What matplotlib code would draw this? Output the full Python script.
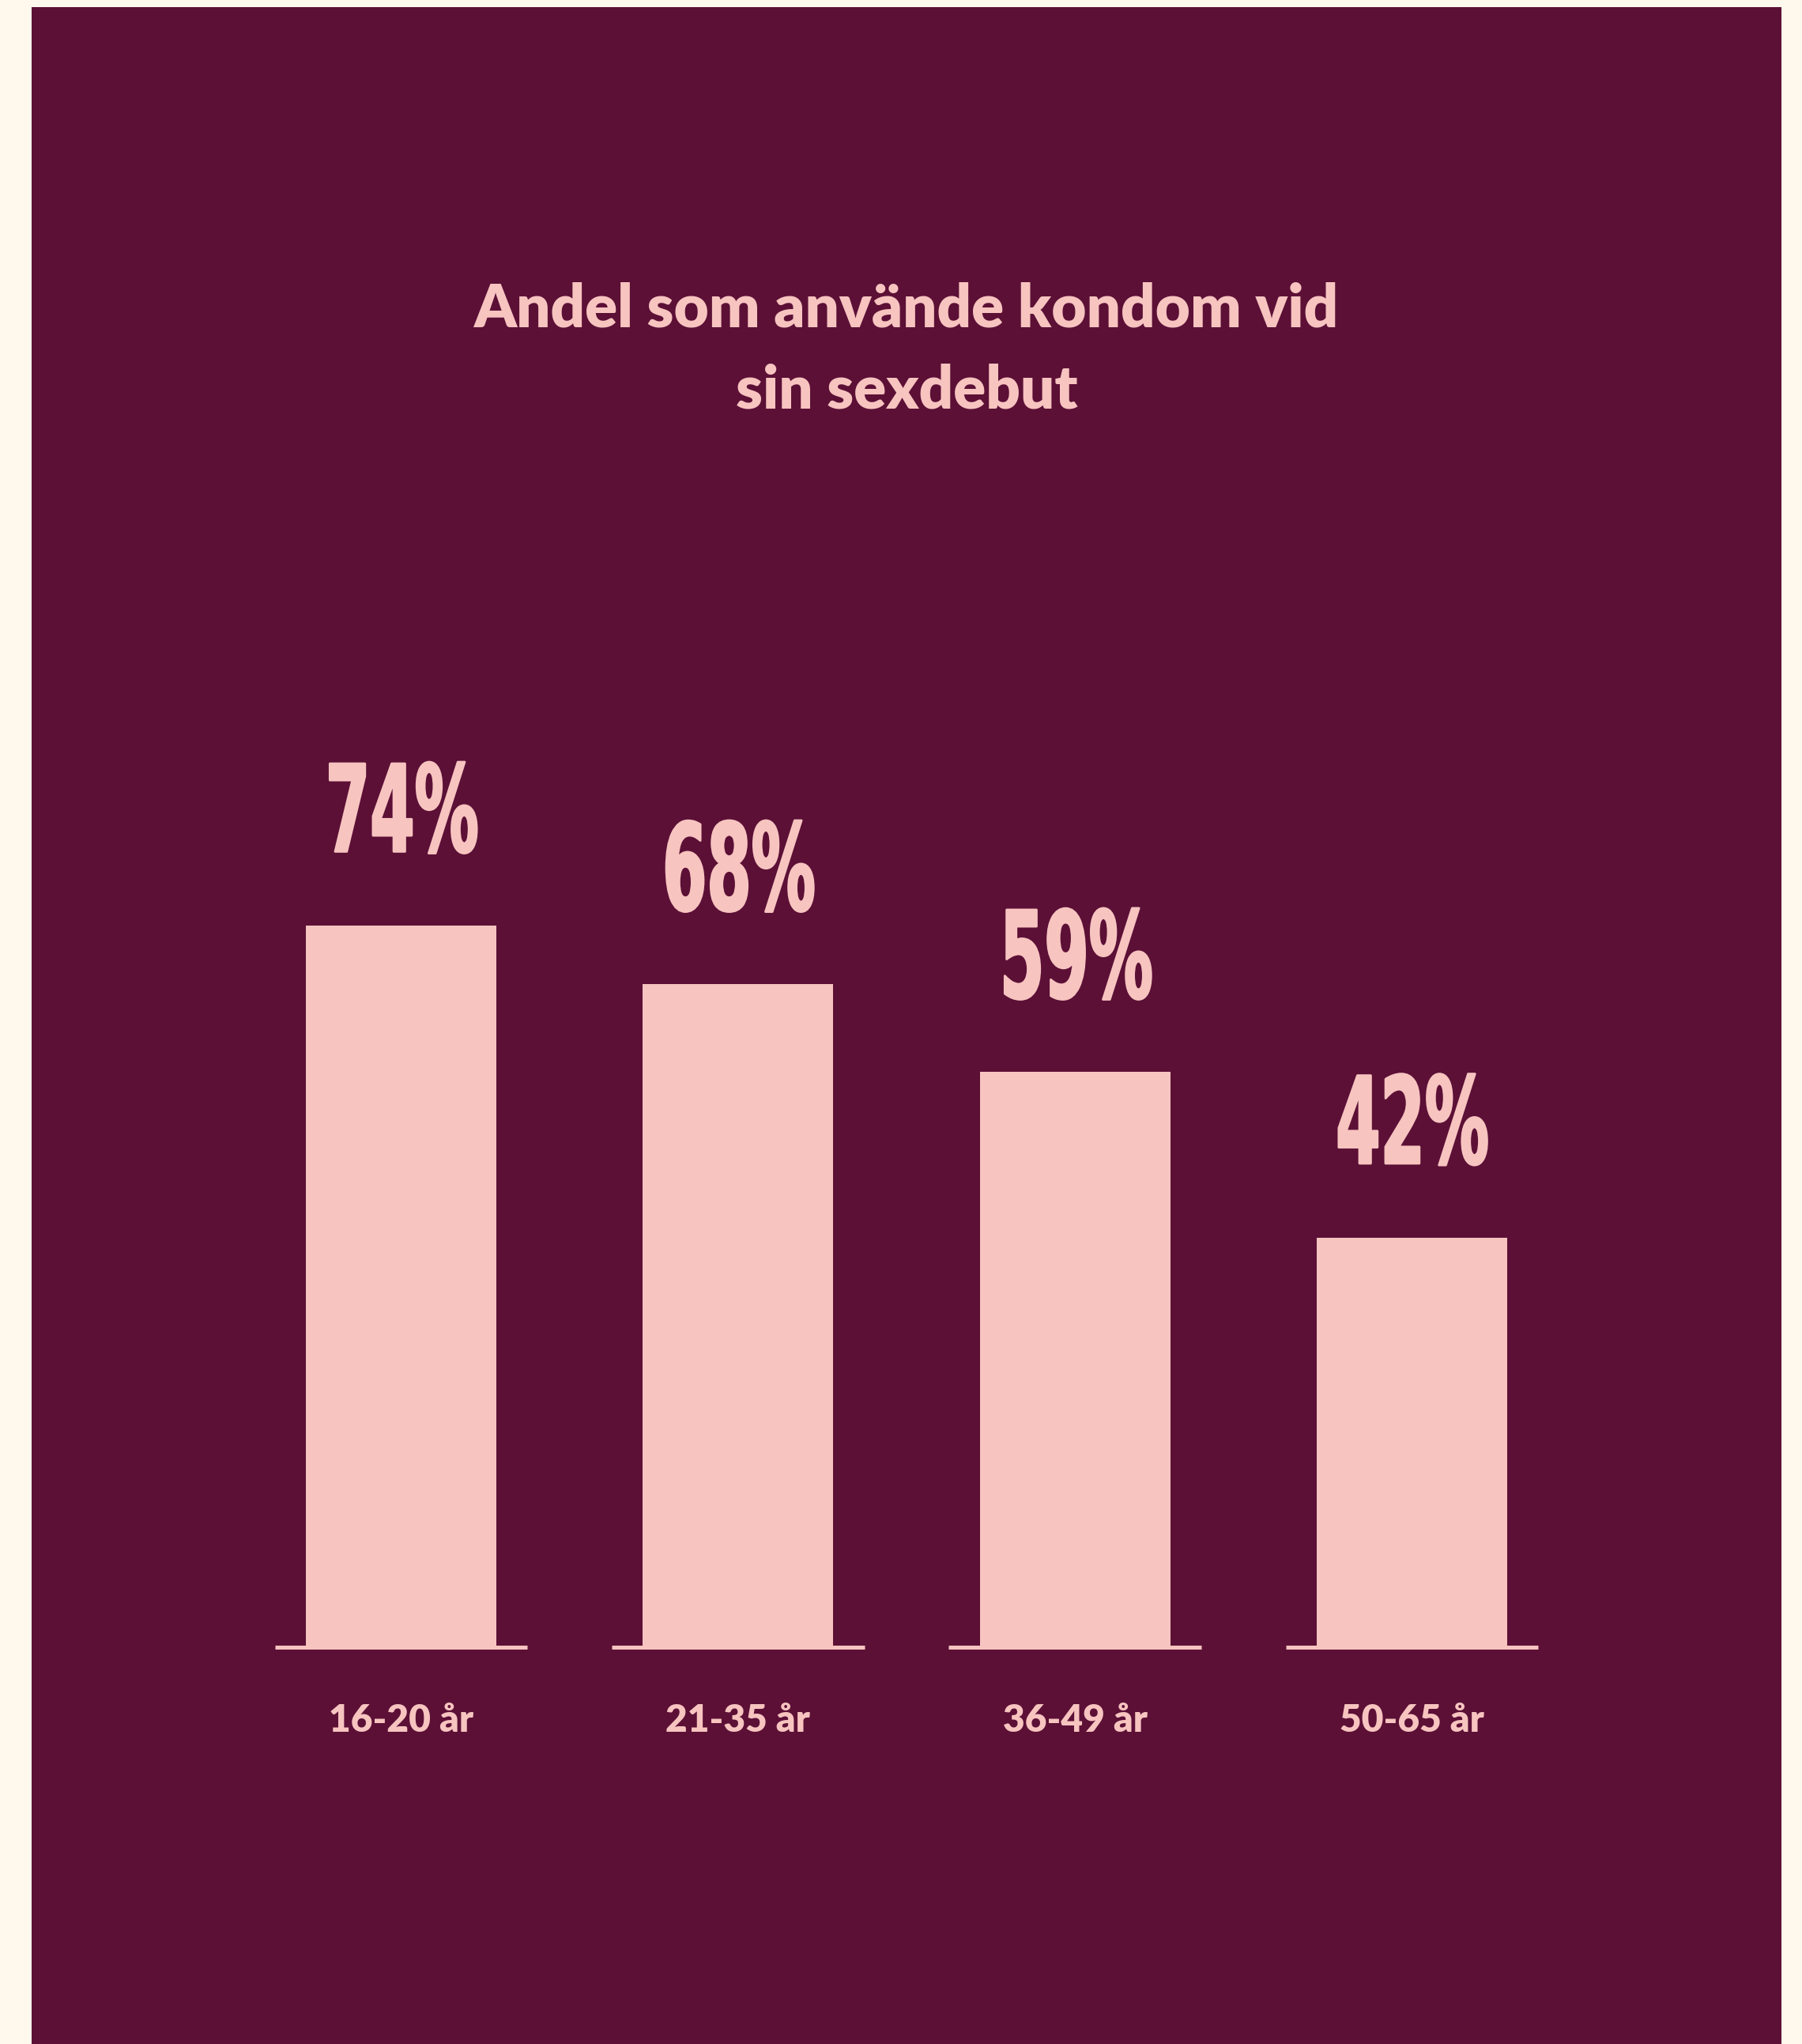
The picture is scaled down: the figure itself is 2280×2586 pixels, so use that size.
import matplotlib
matplotlib.use("Agg")
import matplotlib.pyplot as plt
from matplotlib.patches import Rectangle
from matplotlib.patheffects import AbstractPathEffect
from matplotlib.transforms import Affine2D

age_groups = ["16-20 år", "21-35 år", "36-49 år", "50-65 år"]
condom_share = [74, 68, 59, 42]
title = "Andel som använde kondom vid\nsin sexdebut"

cream = "#FFF8EC"
plum = "#5C1036"
pink = "#F7C4C0"


class Condensed(AbstractPathEffect):
    # squeeze the glyphs horizontally around their own centre,
    # with a thin outline so the narrowed stems keep their weight
    def __init__(self, factor, bolden=2):
        super().__init__()
        self.factor = factor
        self.bolden = bolden

    def draw_path(self, renderer, gc, tpath, affine, rgbFace=None):
        box = tpath.get_extents(affine)
        cx = (box.x0 + box.x1) / 2
        squeeze = affine + Affine2D().translate(-cx, 0).scale(self.factor, 1).translate(cx, 0)
        gc0 = renderer.new_gc()
        gc0.copy_properties(gc)
        gc0.set_linewidth(self.bolden)
        gc0.set_foreground(rgbFace)
        gc0.set_joinstyle("round")
        renderer.draw_path(gc0, tpath, squeeze, rgbFace)
        gc0.restore()


fig = plt.figure(figsize=(22.8, 25.86), dpi=100, facecolor=cream)
fig.patches.append(Rectangle((40 / 2280, 0), (2254 - 40) / 2280, (2586 - 9) / 2586,
                             transform=fig.transFigure, facecolor=plum, edgecolor="none", zorder=-1))

# va="baseline" on a two-line text pins the last line
fig.text(0.503, 0.8001, title, ha="center", va="baseline", color=pink,
         fontsize=54.8, fontweight="heavy", family=["Lato", "DejaVu Sans"], linespacing=1.58)

ax = fig.add_axes([0.1291, 0.1943, 0.748, 0.4768])
ax.set_facecolor("none")
ax.set_xlim(-0.5, 3.5)
ax.set_ylim(0, 100)
ax.axis("off")

x = list(range(len(age_groups)))
ax.bar(x, condom_share, width=0.565, color=pink, zorder=2)
ax.hlines([0] * len(x), [i - 0.375 for i in x], [i + 0.375 for i in x],
          color=pink, linewidth=3.6, zorder=3, clip_on=False)

for i, v in enumerate(condom_share):
    ax.text(i, v + 7.6, f"{v}%", ha="center", va="baseline", color=pink,
            fontsize=110, fontweight="bold", family="DejaVu Sans",
            path_effects=[Condensed(0.53)], clip_on=False)
    ax.text(i, -8.7, age_groups[i], ha="center", va="baseline", color=pink,
            fontsize=34.5, fontweight="heavy", family=["Lato", "DejaVu Sans"], clip_on=False)

fig.savefig("out.png", dpi=100, facecolor=cream)
